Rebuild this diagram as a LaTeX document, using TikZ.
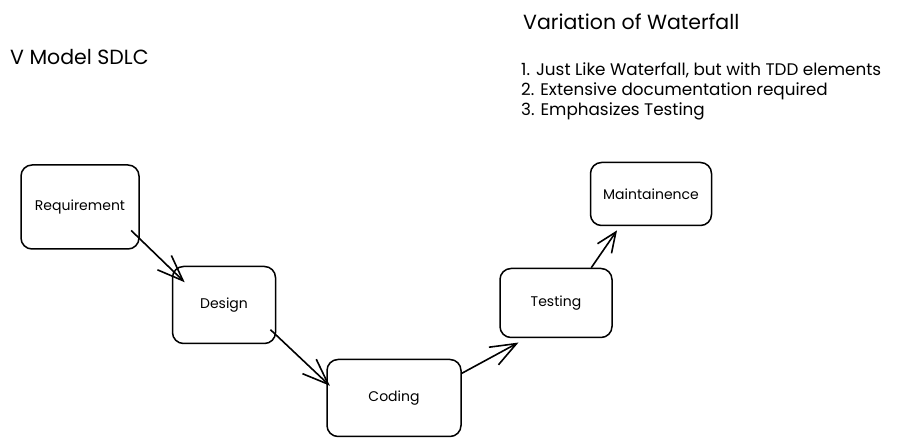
\documentclass[tikz,border=0pt]{standalone}
\usepackage{fontspec}
\setmainfont{Poppins}
\usetikzlibrary{arrows.meta,positioning}

\tikzset{
  stage/.style={draw, line width=1.5pt, rounded corners=11pt, font=\fontsize{14}{16}\selectfont},
  arr/.style={line width=1.6pt, -{Straight Barb[length=26pt,width=20pt,line width=1.6pt]}},
  arrsmall/.style={line width=1.6pt, -{Straight Barb[length=20pt,width=17pt,line width=1.6pt]}},
}

\begin{document}
\begin{tikzpicture}[x=1pt,y=-1pt]
    \useasboundingbox (0,0) rectangle (898,446);

    % titles
    \node[anchor=west, inner sep=0, font=\fontsize{20.5}{23}\selectfont] (title) at (10,57) {V Model SDLC};
    \node[anchor=west, inner sep=0, font=\fontsize{20.5}{23}\selectfont] (var) at (523,22) {Variation of Waterfall};
    \node[anchor=north west, inner sep=0, align=left, font=\fontsize{16.8}{20}\selectfont] (notes) at (521,62)
        {1. Just Like Waterfall, but with TDD elements\\2. Extensive documentation required\\3. Emphasizes Testing};

    % stages
    \node[stage, minimum width=118pt, minimum height=84pt] (req) at (80,207) {Requirement};
    \node[stage, minimum width=103pt, minimum height=77pt] (des) at (224,305) {Design};
    \node[stage, minimum width=134pt, minimum height=77pt] (cod) at (394,398) {Coding};
    \node[stage, minimum width=112pt, minimum height=69pt] (tst) at (556,303) {Testing};
    \node[stage, minimum width=121pt, minimum height=63pt] (mnt) at (651,194) {Maintainence};

    % arrows
    \draw[arr, shorten <=-12pt, shorten >=-18pt] (req.-28) -- (des.146);
    \draw[arr, shorten <=-8pt, shorten >=-5pt] (des.-30) -- (cod.167);
    \draw[arr, shorten >=9pt] (cod.20) -- (tst.230);
    \draw[arrsmall, shorten >=5pt] (tst.45) -- (mnt.226);
\end{tikzpicture}
\end{document}
